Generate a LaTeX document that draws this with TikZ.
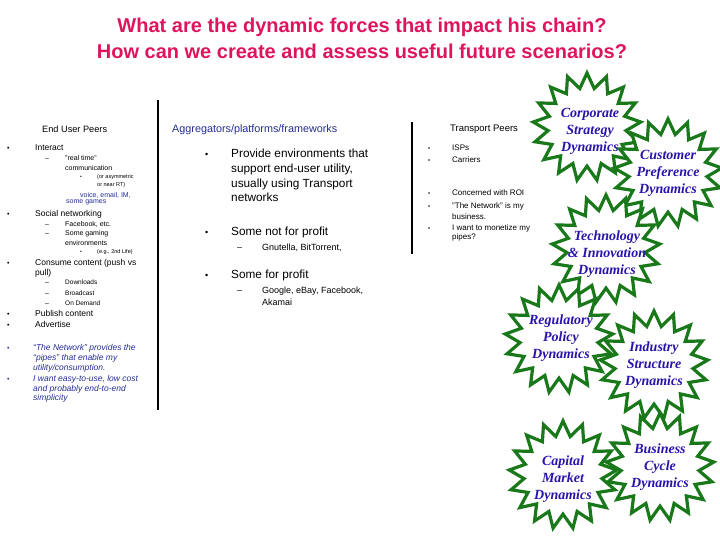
\documentclass[tikz,border=0pt]{standalone}
\usepackage{fontspec}
\setmainfont{Liberation Sans}
\newfontfamily\serifbi{Liberation Serif}
\usetikzlibrary{shapes.geometric}
\definecolor{titlepink}{RGB}{222,20,95}
\definecolor{txtblue}{RGB}{35,45,150}
\definecolor{stargreen}{RGB}{25,120,25}
\definecolor{starblue}{RGB}{40,20,170}
\tikzset{
  tx/.style={anchor=base west, inner sep=0pt, font=\fontsize{#1}{#1}\selectfont},
  tx/.default=8.5,
  bl/.style={anchor=base west, inner sep=0pt, font=\fontsize{#1}{#1}\selectfont},
  bl/.default=7,
  burst/.style={star, star points=17, star point ratio=1.38, minimum size=108pt,
    inner sep=0pt, draw=stargreen, line width=3.2pt, fill=white},
  bursttext/.style={align=center, text=starblue, inner sep=0pt,
    font=\serifbi\bfseries\itshape\fontsize{14}{17}\selectfont},
  vline/.style={line width=1.3pt, black},
}
\begin{document}
\begin{tikzpicture}[x=1pt,y=-1pt]
\useasboundingbox (0,0) rectangle (720,540);
% title
\node[text=titlepink, font=\bfseries\fontsize{20}{26}\selectfont, align=center] (title) at (362,38)
  {What are the dynamic forces that impact his chain?\\How can we create and assess useful future scenarios?};
% dividers
\coordinate (va) at (158,100); \coordinate (vb) at (158,410);
\coordinate (vc) at (412,122); \coordinate (vd) at (412,254);
\draw[vline] (va) -- (vb);
\draw[vline] (vc) -- (vd);
% left column
\node[tx=9.2] (l0) at (42,133) {End User Peers};
\node[bl] (b1) at (7,151) {•}; \node[tx] (l1) at (35,151) {Interact};
\node[tx=7] (d1) at (45,161) {–}; \node[tx=7] (l2) at (65,161) {"real time"};
\node[tx=7] (l3) at (65,171) {communication};
\node[bl=5] (b2) at (80,179) {•}; \node[tx=5.5] (l4) at (97,179) {(or asymmetric};
\node[tx=5.5] (l5) at (97,187) {or near RT)};
\node[tx=7, text=txtblue] (l6) at (80,197) {voice, email, IM,};
\node[tx=7, text=txtblue] (l7) at (66,204) {some games};
\node[bl] (b3) at (7,216) {•}; \node[tx] (l8) at (35,216) {Social networking};
\node[tx=7] (d2) at (45,226) {–}; \node[tx=7] (l9) at (65,226) {Facebook, etc.};
\node[tx=7] (d3) at (45,236) {–}; \node[tx=7] (l10) at (65,236) {Some gaming};
\node[tx=7] (l11) at (65,245) {environments};
\node[bl=5] (b4) at (80,254) {•}; \node[tx=5.5] (l12) at (97,254) {(e.g., 2nd Life)};
\node[bl] (b5) at (7,265) {•}; \node[tx] (l13) at (35,265) {Consume content (push vs};
\node[tx] (l14) at (35,275) {pull)};
\node[tx=7] (d4) at (45,284) {–}; \node[tx=6.5] (l15) at (65,284) {Downloads};
\node[tx=7] (d5) at (45,295) {–}; \node[tx=6.5] (l16) at (65,295) {Broadcast};
\node[tx=7] (d6) at (45,305) {–}; \node[tx=6.5] (l17) at (65,305) {On Demand};
\node[bl] (b6) at (7,316) {•}; \node[tx] (l18) at (35,316) {Publish content};
\node[bl] (b7) at (7,327) {•}; \node[tx] (l19) at (35,327) {Advertise};
\node[bl, text=txtblue] (b8) at (7,350) {•};
\node[tx, text=txtblue, font=\itshape\fontsize{8.5}{8.5}\selectfont] (l20) at (33,350) {“The Network” provides the};
\node[tx, text=txtblue, font=\itshape\fontsize{8.5}{8.5}\selectfont] (l21) at (33,360) {“pipes” that enable my};
\node[tx, text=txtblue, font=\itshape\fontsize{8.5}{8.5}\selectfont] (l22) at (33,370) {utility/consumption.};
\node[bl, text=txtblue] (b9) at (7,381) {•};
\node[tx, text=txtblue, font=\itshape\fontsize{8.5}{8.5}\selectfont] (l23) at (33,381) {I want easy-to-use, low cost};
\node[tx, text=txtblue, font=\itshape\fontsize{8.5}{8.5}\selectfont] (l24) at (33,391) {and probably end-to-end};
\node[tx, text=txtblue, font=\itshape\fontsize{8.5}{8.5}\selectfont] (l25) at (33,400) {simplicity};
% middle column
\node[tx=10.8, text=txtblue] (m0) at (172,133) {Aggregators/platforms/frameworks};
\node[bl=9] (mb1) at (205,158) {•}; \node[tx=11.8] (m1) at (231,158) {Provide environments that};
\node[tx=11.8] (m2) at (231,173) {support end-user utility,};
\node[tx=11.8] (m3) at (231,188) {usually using Transport};
\node[tx=11.8] (m4) at (231,202) {networks};
\node[bl=9] (mb2) at (205,236) {•}; \node[tx=11.8] (m5) at (231,236) {Some not for profit};
\node[tx=9] (md1) at (237,251) {–}; \node[tx=9] (m6) at (262,251) {Gnutella, BitTorrent,};
\node[bl=9] (mb3) at (205,278) {•}; \node[tx=11.8] (m7) at (231,278) {Some for profit};
\node[tx=9] (md2) at (237,293) {–}; \node[tx=9] (m8) at (262,293) {Google, eBay, Facebook,};
\node[tx=9] (m9) at (262,305) {Akamai};
% right column
\node[tx=9.5] (r0) at (450,132) {Transport Peers};
\node[bl=6] (rb1) at (428,151) {•}; \node[tx=8] (r1) at (452,151) {ISPs};
\node[bl=6] (rb2) at (428,163) {•}; \node[tx=8] (r2) at (452,163) {Carriers};
\node[bl=6] (rb3) at (428,196) {•}; \node[tx=8] (r3) at (452,196) {Concerned with ROI};
\node[bl=6] (rb4) at (428,209) {•}; \node[tx=8] (r4) at (452,209) {"The Network" is my};
\node[tx=8] (r5) at (452,219) {business.};
\node[bl=6] (rb5) at (428,230) {•}; \node[tx=8] (r6) at (452,230) {I want to monetize my};
\node[tx=8] (r7) at (452,240) {pipes?};
% starbursts
\node[burst] (s1) at (587,127) {};
\node[bursttext] (t1) at (590,131) {Corporate\\Strategy\\Dynamics};
\node[burst] (s2) at (668,173) {};
\node[bursttext] (t2) at (668,173) {Customer\\Preference\\Dynamics};
\node[burst] (s3) at (606,249) {};
\node[bursttext] (t3) at (607,254) {Technology\\\& Innovation\\Dynamics};
\node[burst] (s4) at (559,339) {};
\node[bursttext] (t4) at (561,338) {Regulatory\\Policy\\Dynamics};
\node[burst] (s5) at (654,365) {};
\node[bursttext] (t5) at (654,365) {Industry\\Structure\\Dynamics};
\node[burst] (s6) at (563,475) {};
\node[bursttext] (t6) at (563,479) {Capital\\Market\\Dynamics};
\node[burst] (s7) at (660,467) {};
\node[bursttext] (t7) at (660,467) {Business\\Cycle\\Dynamics};
\end{tikzpicture}
\end{document}
